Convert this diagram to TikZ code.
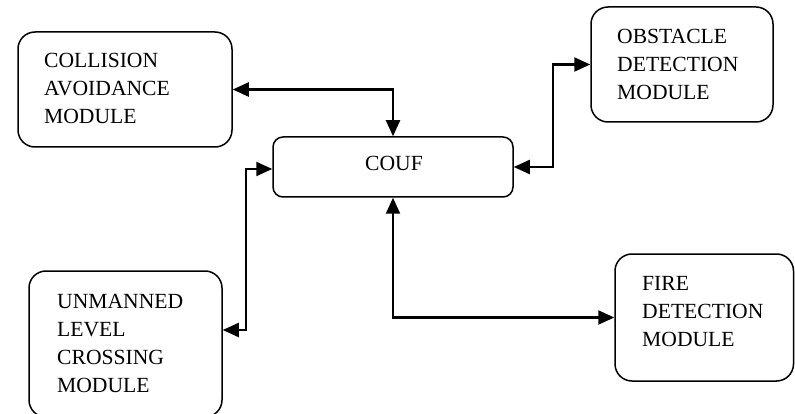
\documentclass[tikz,border=0pt]{standalone}
\usepackage{fontspec}
\setmainfont{Liberation Serif}
\usetikzlibrary{arrows.meta}
\begin{document}
\begin{tikzpicture}[x=1pt,y=-1pt,
  module/.style={draw,line width=1.5pt,rounded corners=17pt,inner sep=0,anchor=center},
  hub/.style={draw,line width=1.5pt,rounded corners=10pt,inner sep=0,anchor=center},
  label/.style={anchor=north west,inner sep=0,align=left,font=\fontsize{21.6}{28}\selectfont},
  link/.style={line width=2.2pt,{Triangle[length=16pt,width=14pt]}-{Triangle[length=16pt,width=14pt]}}]
\clip (0,0) rectangle (795,414);
\fill[white] (0,0) rectangle (795,414);

% boxes
\node[module,minimum width=214pt,minimum height=115pt] (ca) at (125,89.5) {};
\node[hub,minimum width=240pt,minimum height=60pt] (couf) at (393,167) {};
\node[module,minimum width=182pt,minimum height=115pt] (ob) at (682,64.5) {};
\node[module,minimum width=193pt,minimum height=146pt] (ul) at (125.5,344) {};
\node[module,minimum width=178.5pt,minimum height=127pt] (fd) at (704.25,317.5) {};

% texts
\node[label] (ca-t) at (44,53) {COLLISION\\AVOIDANCE\\MODULE};
\node[label] (couf-t) at (365,156) {COUF};
\node[label] (ob-t) at (617,29.5) {OBSTACLE\\DETECTION\\MODULE};
\node[label] (ul-t) at (57,294) {UNMANNED\\LEVEL\\CROSSING\\MODULE};
\node[label] (fd-t) at (642,276) {FIRE\\DETECTION\\MODULE};

% connectors
\draw[link] (ca.east) -| (couf.north);
\draw[link] (couf.east) -- ++(39,0) |- (ob.west);
\draw[link] ([yshift=-2pt]couf.west) -- ++(-26,0) |- ([yshift=14pt]ul.east);
\draw[link] (couf.south) |- (fd.west);
\end{tikzpicture}
\end{document}
